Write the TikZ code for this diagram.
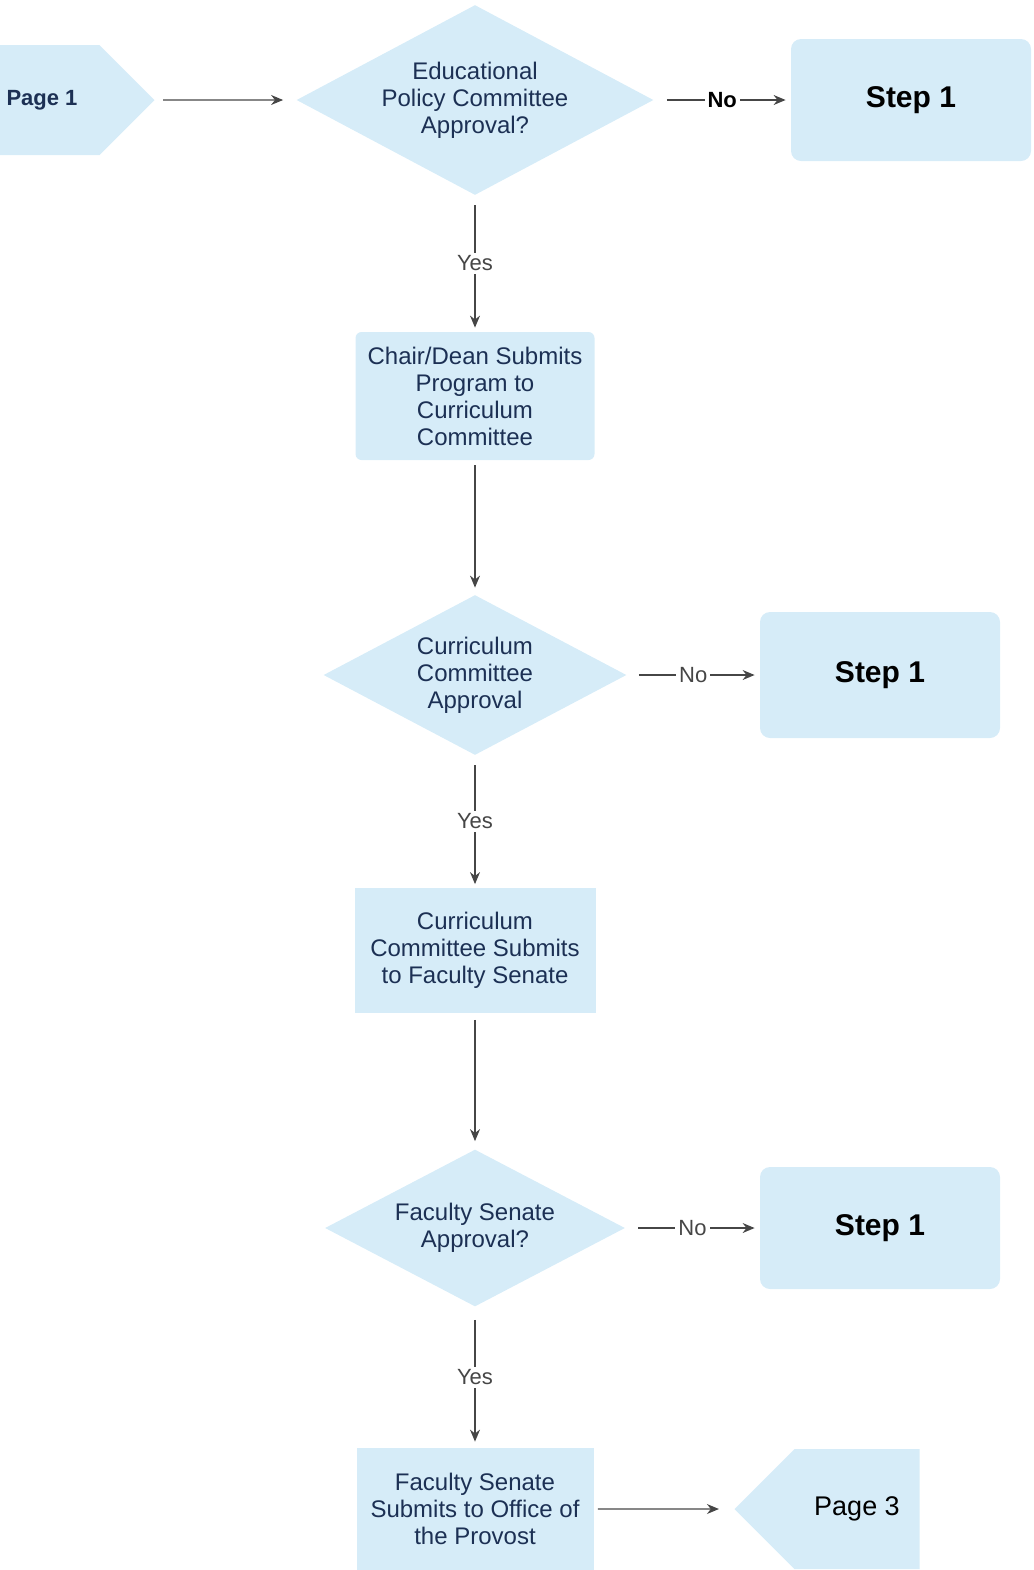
\documentclass[tikz,border=0pt]{standalone}
\usepackage{fontspec}
\setmainfont{Liberation Sans}
\usetikzlibrary{arrows.meta,positioning,shapes.geometric,shapes.symbols}
\definecolor{paleblue}{RGB}{214,236,248}
\definecolor{inkblue}{RGB}{28,48,84}
\definecolor{linegray}{RGB}{70,70,70}

\begin{document}
\begin{tikzpicture}[x=0.5pt, y=-0.5pt, >={Stealth[length=6pt,width=5pt]},
        every node/.style={inner sep=0pt, text=inkblue, font=\fontsize{12}{13.5}\selectfont, align=center},
        decision/.style={diamond, fill=paleblue, shape aspect=1.9},
        procbox/.style={rectangle, fill=paleblue, rounded corners=3pt},
        stepbox/.style={rectangle, fill=paleblue, rounded corners=5pt, text=black,
                        font=\fontsize{15}{18}\selectfont\bfseries, minimum width=120pt},
        pageconn/.style={signal, fill=paleblue, signal pointer angle=90},
        lbl/.style={fill=white, text=linegray, inner sep=1.5pt, font=\fontsize{11}{12}\selectfont},
        conn/.style={->, draw=linegray, line width=0.6pt}]

    \useasboundingbox (0,0) rectangle (1034,1570);

    \node[pageconn, signal to=east, minimum width=85pt, minimum height=55pt,
          font=\fontsize{11}{12}\selectfont\bfseries] (P1) at (42,100) {Page 1};

    \node[decision, minimum width=178.5pt, minimum height=95pt] (D1) at (475,100)
        {Educational\\Policy Committee\\Approval?};
    \node[stepbox, minimum height=61pt] (S1) at (911,100) {Step 1};

    \node[procbox, minimum width=119.5pt, minimum height=64pt] (B1) at (475,396)
        {Chair/Dean Submits\\Program to\\Curriculum\\Committee};

    \node[decision, minimum width=151.5pt, minimum height=80pt] (D2) at (475,675)
        {Curriculum\\Committee\\Approval};
    \node[stepbox, minimum height=63pt] (S2) at (880,675) {Step 1};

    \node[procbox, rounded corners=0pt, minimum width=120.5pt, minimum height=62.5pt] (B2) at (475,950)
        {Curriculum\\Committee Submits\\to Faculty Senate};

    \node[decision, minimum width=150pt, minimum height=78.5pt] (D3) at (475,1228)
        {Faculty Senate\\Approval?};
    \node[stepbox, minimum height=61pt] (S3) at (880,1228) {Step 1};

    \node[procbox, rounded corners=0pt, minimum width=118.5pt, minimum height=61pt] (B3) at (475,1509)
        {Faculty Senate\\Submits to Office of\\the Provost};

    \node[pageconn, signal to=west, minimum width=92.5pt, minimum height=60pt, text=black,
          font=\fontsize{13.5}{15}\selectfont] (P3) at (857,1509) {Page 3};

    \draw[conn, shorten <=4pt, shorten >=6.5pt] (P1) -- (D1);
    \draw[conn, shorten <=6.5pt, shorten >=2.5pt] (D1) -- node[lbl, text=black, font=\fontsize{11}{12}\selectfont\bfseries] {No} (S1);
    \draw[conn, shorten <=5pt, shorten >=2pt] (D1) -- node[lbl] {Yes} (B1);
    \draw[conn, shorten <=2.5pt, shorten >=3.5pt] (B1) -- (D2);
    \draw[conn, shorten <=6pt, shorten >=2.5pt] (D2) -- node[lbl] {No} (S2);
    \draw[conn, shorten <=5pt, shorten >=1.5pt] (D2) -- node[lbl] {Yes} (B2);
    \draw[conn, shorten <=3.5pt, shorten >=4pt] (B2) -- (D3);
    \draw[conn, shorten <=6.5pt, shorten >=2.5pt] (D3) -- node[lbl] {No} (S3);
    \draw[conn, shorten <=6.5pt, shorten >=3pt] (D3) -- node[lbl] {Yes} (B3);
    \draw[conn, shorten <=2pt, shorten >=7.5pt] (B3) -- (P3);
\end{tikzpicture}
\end{document}
